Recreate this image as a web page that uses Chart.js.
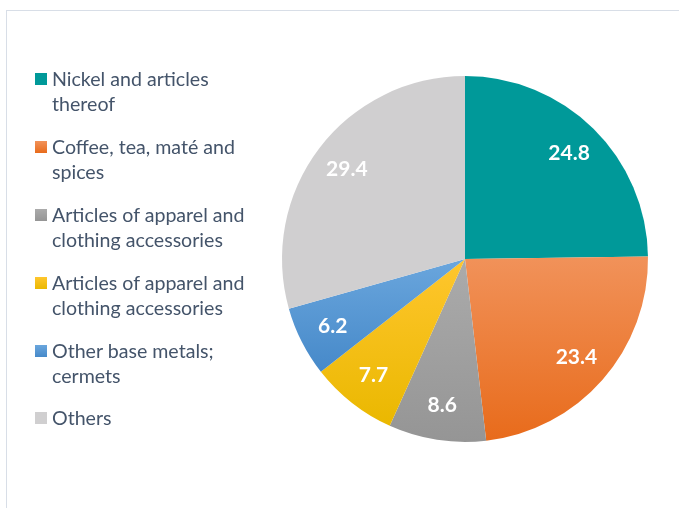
<!DOCTYPE html>
<html>
<head>
<meta charset="utf-8">
<script src="https://cdn.jsdelivr.net/npm/chart.js@4.4.1/dist/chart.umd.min.js"></script>
<style>
  body { margin: 0; background: #fff; }
  #wrap { position: relative; width: 679px; height: 508px; overflow: hidden; }
  #frame { position: absolute; left: 6px; top: 10px; width: 720px; height: 540px;
           border-left: 1.5px solid #d8dee7; border-top: 1.5px solid #d8dee7; }
  #legend { position: absolute; left: 35px; top: 0; font-family: Lato, sans-serif;
            font-size: 19.6px; color: #44546a; }
  .item { position: absolute; left: 0; width: 240px; line-height: 25px; padding-left: 17px; }
  .item span.box { position: absolute; left: 0; top: 7px; width: 12px; height: 12px; }
  canvas { position: absolute; left: 0; top: 0; }
</style>
</head>
<body>
<div id="wrap">
  <div id="frame"></div>
  <canvas id="pie" width="679" height="508"></canvas>
  <div id="legend"></div>
</div>
<script>
const labels = [
  "Nickel and articles thereof",
  "Coffee, tea, maté and spices",
  "Articles of apparel and clothing accessories",
  "Articles of apparel and clothing accessories",
  "Other base metals; cermets",
  "Others"
];
const legendLines = [
  ["Nickel and articles", "thereof"],
  ["Coffee, tea, maté and", "spices"],
  ["Articles of apparel and", "clothing accessories"],
  ["Articles of apparel and", "clothing accessories"],
  ["Other base metals;", "cermets"],
  ["Others"]
];
const values = [24.8, 23.4, 8.6, 7.7, 6.2, 29.4];
// top / bottom colour of each slice (Excel style gradient)
const topColors = ["#009999", "#f1925a", "#ababab", "#ffc62e", "#6aa6dd", "#d0cfd0"];
const bottomColors = ["#009999", "#e86b1b", "#959595", "#eab800", "#4689c9", "#d0cfd0"];

// vertical gradient over the slice's own bounding box
function sliceGradient(context) {
  const chart = context.chart;
  const i = context.dataIndex;
  const area = chart.chartArea;
  if (!area) return topColors[i];
  const cx = (area.left + area.right) / 2;
  const cy = (area.top + area.bottom) / 2;
  const r = Math.min(area.width, area.height) / 2;
  const total = values.reduce((a, b) => a + b, 0);
  let start = -Math.PI / 2;
  for (let k = 0; k < i; k++) start += values[k] / total * Math.PI * 2;
  const end = start + values[i] / total * Math.PI * 2;
  let ys = [cy, cy + r * Math.sin(start), cy + r * Math.sin(end)];
  for (let a = -Math.PI / 2; a < Math.PI * 2; a += Math.PI) {
    if (a > start && a < end) ys.push(cy + r * Math.sin(a));
  }
  const y0 = Math.min(...ys), y1 = Math.max(...ys);
  const g = chart.ctx.createLinearGradient(0, y0, 0, y1);
  g.addColorStop(0, topColors[i]);
  g.addColorStop(1, bottomColors[i]);
  return g;
}

const valueLabels = {
  id: 'valueLabels',
  afterDatasetsDraw(chart) {
    const ctx = chart.ctx;
    const meta = chart.getDatasetMeta(0);
    ctx.save();
    ctx.font = 'bold 21px Lato, sans-serif';
    ctx.fillStyle = '#ffffff';
    ctx.textAlign = 'center';
    ctx.textBaseline = 'middle';
    meta.data.forEach((arc, i) => {
      const p = arc.getProps(['x', 'y', 'startAngle', 'endAngle', 'outerRadius'], true);
      const mid = (p.startAngle + p.endAngle) / 2;
      const d = p.outerRadius * 0.81;
      ctx.fillText(values[i].toFixed(1), p.x + Math.cos(mid) * d, p.y + Math.sin(mid) * d);
    });
    ctx.restore();
  }
};

new Chart(document.getElementById('pie'), {
  type: 'pie',
  data: {
    labels: labels,
    datasets: [{
      data: values,
      backgroundColor: sliceGradient,
      borderWidth: 0
    }]
  },
  options: {
    responsive: false,
    animation: false,
    layout: { padding: { left: 282, right: 31, top: 76, bottom: 66 } },
    plugins: {
      legend: { display: false },
      tooltip: { enabled: false }
    }
  },
  plugins: [valueLabels]
});

// legend built from the same arrays
const legendTops = [66, 134, 202, 270, 338, 405];
const legend = document.getElementById('legend');
legendLines.forEach((lines, i) => {
  const div = document.createElement('div');
  div.className = 'item';
  div.style.top = legendTops[i] + 'px';
  const box = document.createElement('span');
  box.className = 'box';
  box.style.background = 'linear-gradient(' + topColors[i] + ',' + bottomColors[i] + ')';
  div.appendChild(box);
  div.appendChild(document.createTextNode(lines[0]));
  for (let k = 1; k < lines.length; k++) {
    div.appendChild(document.createElement('br'));
    div.appendChild(document.createTextNode(lines[k]));
  }
  legend.appendChild(div);
});
</script>
</body>
</html>
